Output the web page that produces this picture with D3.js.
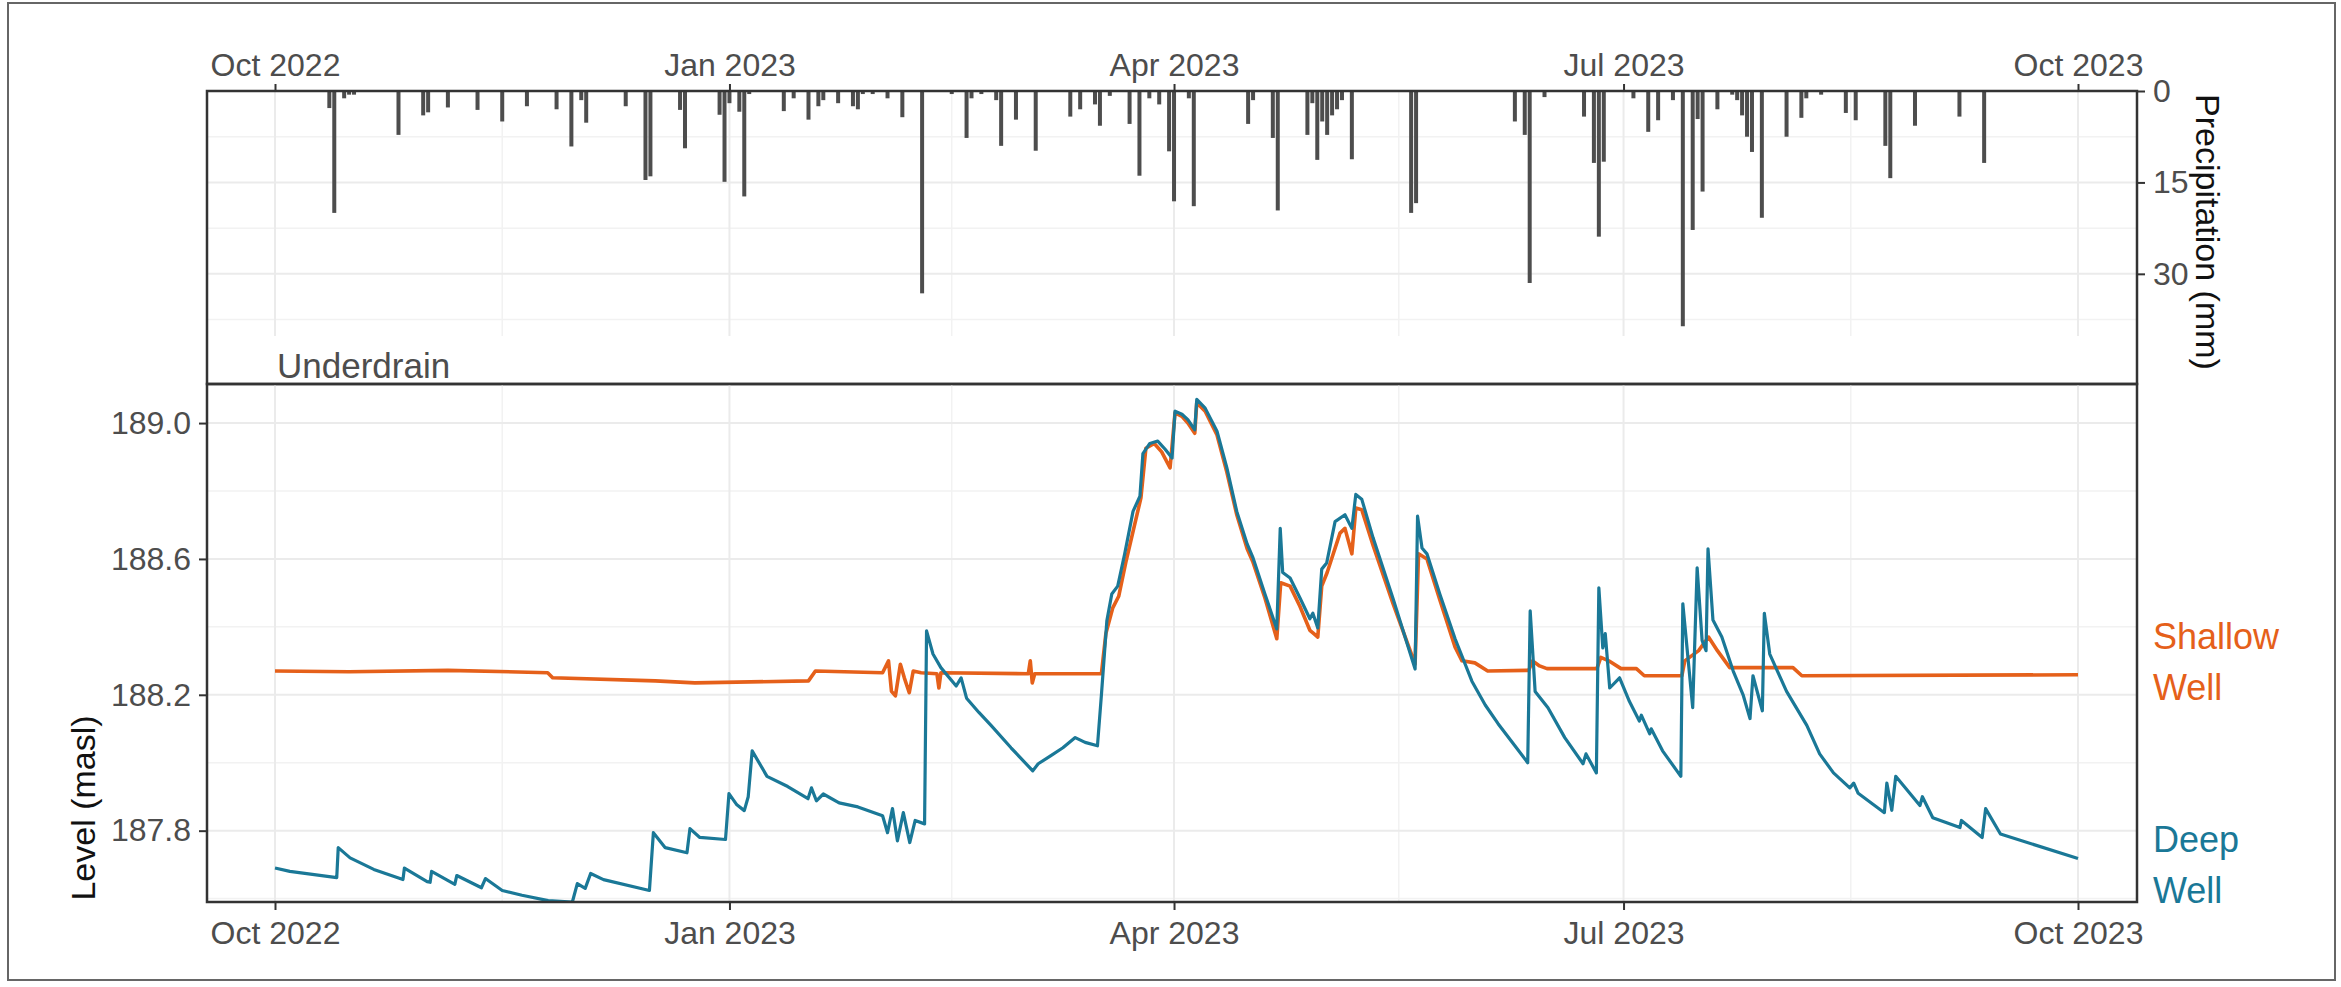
<!DOCTYPE html>
<html>
<head>
<meta charset="utf-8">
<script src="https://cdn.jsdelivr.net/npm/d3@7"></script>
<style>
    body { margin: 0; background: #fff; }
    #chart { width: 2341px; height: 987px; }
    text { font-family: "Liberation Sans", Arial, sans-serif; }
    .tick text { fill: #4d4d4d; font-size: 32px; }
    .tick line { stroke: #333; stroke-width: 2; }
    .domain { display: none; }
</style>
</head>
<body>
<div id="chart"></div>
<script>

// daily precipitation (mm)
const precipDates = [
    "2022-10-12", "2022-10-13", "2022-10-15", "2022-10-16", "2022-10-17", "2022-10-26", "2022-10-31",
    "2022-11-01", "2022-11-05", "2022-11-11", "2022-11-16", "2022-11-21", "2022-11-27", "2022-11-30",
    "2022-12-02", "2022-12-03", "2022-12-11", "2022-12-15", "2022-12-16", "2022-12-22", "2022-12-23",
    "2022-12-30", "2022-12-31", "2023-01-01", "2023-01-03", "2023-01-04", "2023-01-05", "2023-01-12",
    "2023-01-14", "2023-01-17", "2023-01-19", "2023-01-20", "2023-01-23", "2023-01-26", "2023-01-27",
    "2023-01-28", "2023-01-30", "2023-02-02", "2023-02-05", "2023-02-09", "2023-02-15", "2023-02-18",
    "2023-02-19", "2023-02-21", "2023-02-24", "2023-02-25", "2023-02-28", "2023-03-04", "2023-03-11",
    "2023-03-13", "2023-03-16", "2023-03-17", "2023-03-19", "2023-03-23", "2023-03-25", "2023-03-27",
    "2023-03-29", "2023-03-31", "2023-04-01", "2023-04-04", "2023-04-05", "2023-04-16", "2023-04-17",
    "2023-04-21", "2023-04-22", "2023-04-28", "2023-04-29", "2023-04-30", "2023-05-01", "2023-05-02",
    "2023-05-03", "2023-05-04", "2023-05-05", "2023-05-07", "2023-05-19", "2023-05-20", "2023-06-09",
    "2023-06-11", "2023-06-12", "2023-06-15", "2023-06-23", "2023-06-25", "2023-06-26", "2023-06-27",
    "2023-07-03", "2023-07-06", "2023-07-08", "2023-07-11", "2023-07-13", "2023-07-15", "2023-07-16",
    "2023-07-17", "2023-07-20", "2023-07-23", "2023-07-24", "2023-07-25", "2023-07-26", "2023-07-27",
    "2023-07-29", "2023-08-03", "2023-08-06", "2023-08-07", "2023-08-10", "2023-08-15", "2023-08-17",
    "2023-08-23", "2023-08-24", "2023-08-29", "2023-09-07", "2023-09-12"
];
const precipMm = [
    2.8, 20, 1.2, 0.6, 0.6, 7.2, 4,
    3.5, 2.7, 3.1, 5, 2.5, 3, 9.1,
    1.5, 5.2, 2.5, 14.6, 14, 3.1, 9.4,
    3.9, 14.9, 2, 3.4, 17.3, 0.5, 3.3,
    1.2, 4.7, 2.5, 1.5, 2, 2.5, 3,
    0.5, 0.5, 1.2, 4.3, 33.2, 0.5, 7.7,
    1.2, 0.5, 1.5, 9, 4.7, 9.8, 4.2,
    3, 2.2, 5.7, 0.8, 5.4, 13.9, 1.2,
    2.2, 9.9, 18.1, 1.2, 18.9, 5.4, 1.5,
    7.7, 19.6, 7.2, 2, 11.3, 5, 7.2,
    4, 3, 1.5, 11.2, 20, 18.4, 5,
    7.2, 31.5, 1, 4.2, 11.8, 23.9, 11.6,
    1.2, 6.7, 4.8, 1.5, 38.6, 22.8, 4.6,
    16.5, 3, 0.6, 1.5, 4, 7.5, 10,
    20.8, 7.5, 4.4, 1.2, 0.6, 3.6, 4.8,
    9, 14.3, 5.7, 4.2, 11.8
];

// water levels (masl), [day of water year (from 2022-10-01), level]
const deepWell = [
    [0, 187.69], [3, 187.68], [12.5, 187.662], [12.8, 187.75], [15.2, 187.72], [20, 187.686], [25.9, 187.656],
    [26.2, 187.69], [30.8, 187.65], [31.4, 187.648], [31.7, 187.68], [36.4, 187.642], [36.8, 187.668],
    [41.8, 187.632], [42.6, 187.659], [46, 187.624], [50, 187.61], [55.3, 187.594], [60.2, 187.59], [61.2, 187.644],
    [62.8, 187.63], [63.9, 187.674], [66.5, 187.656], [75.8, 187.624], [76.6, 187.794], [79, 187.75],
    [83.4, 187.735], [84, 187.806], [86, 187.78], [91.2, 187.774], [91.9, 187.909], [93.5, 187.876],
    [95, 187.859], [95.8, 187.9], [96.6, 188.035], [99.6, 187.96], [103.8, 187.93], [107.9, 187.894],
    [108.6, 187.926], [109.6, 187.888], [111, 187.908], [114.2, 187.882], [118, 187.87], [123, 187.844],
    [124, 187.794], [125, 187.865], [126, 187.77], [127.2, 187.853], [128.5, 187.765], [129.6, 187.83],
    [131.5, 187.82], [131.9, 188.388], [133.2, 188.32], [134.8, 188.28], [137.9, 188.226], [138.9, 188.25],
    [140, 188.19], [142.5, 188.148], [145, 188.109], [149, 188.044], [153.4, 187.976], [154.5, 187.997], [157, 188.02],
    [159.5, 188.044], [162, 188.074], [164, 188.06], [166.5, 188.05], [167.3, 188.2], [168.4, 188.418],
    [169.4, 188.497], [170.6, 188.52], [172, 188.614], [173.7, 188.74], [175.1, 188.785], [175.7, 188.91],
    [177.1, 188.94], [178.7, 188.947], [180.2, 188.923], [181.6, 188.897], [182.2, 189.035], [183.6, 189.026],
    [184.8, 189.01], [186.2, 188.98], [186.6, 189.07], [188.3, 189.044], [190.7, 188.976], [192.7, 188.868],
    [194.7, 188.74], [196.8, 188.644], [198, 188.603], [200.4, 188.497], [202.8, 188.394], [203.5, 188.69],
    [204, 188.56], [205.5, 188.544], [207.5, 188.485], [209.5, 188.424], [210.1, 188.44], [211.1, 188.397],
    [211.9, 188.57], [212.9, 188.588], [214.6, 188.71], [216.6, 188.73], [218, 188.69], [218.8, 188.79],
    [220, 188.776], [222.3, 188.662], [226.3, 188.485], [230.8, 188.276], [231.3, 188.726], [232.2, 188.632],
    [233.2, 188.615], [235.8, 188.497], [238.9, 188.365], [242.3, 188.24], [245, 188.17], [247.6, 188.115], [251, 188.05],
    [253.6, 188.0], [254.1, 188.447], [255.1, 188.21], [257.7, 188.162], [261.1, 188.074], [264.8, 187.997],
    [265.4, 188.026], [267.5, 187.97], [268, 188.515], [268.8, 188.338], [269.3, 188.38], [270.2, 188.22],
    [272.2, 188.25], [274.2, 188.18], [276.2, 188.123], [276.6, 188.14], [278.3, 188.085], [278.6, 188.1], [280.9, 188.035],
    [284.6, 187.96], [285, 188.468], [287, 188.162], [287.9, 188.574], [288.9, 188.36], [289.7, 188.33],
    [290.1, 188.63], [291.1, 188.42], [292.9, 188.37], [295.2, 188.27], [297.2, 188.2], [298.6, 188.13],
    [299.2, 188.256], [301.1, 188.153], [301.5, 188.44], [302.6, 188.32], [306, 188.21], [310.1, 188.11],
    [312.7, 188.026], [315.5, 187.97], [318.8, 187.926], [319.6, 187.94], [320.5, 187.91], [325.8, 187.853], [326.3, 187.94],
    [327.3, 187.86], [328.1, 187.96], [333, 187.874], [333.5, 187.9], [335.6, 187.838], [341.1, 187.809],
    [341.4, 187.83], [345.6, 187.78], [346.3, 187.865], [349.3, 187.79], [365, 187.718]
];
const shallowWell = [
    [0, 188.27], [15, 188.268], [35, 188.272], [55.2, 188.265], [56.2, 188.25], [77, 188.241],
    [85, 188.235], [108, 188.241], [109.4, 188.27], [123, 188.265], [124.2, 188.3], [124.8, 188.21],
    [125.6, 188.197], [126.6, 188.29], [127.4, 188.25], [128.4, 188.206], [129.2, 188.27], [130.8, 188.265],
    [134, 188.262], [134.4, 188.22], [134.8, 188.265], [152.5, 188.262], [152.9, 188.3], [153.3, 188.235],
    [153.8, 188.262], [167.3, 188.262], [168.2, 188.38], [169.6, 188.456], [170.8, 188.49], [172.3, 188.594],
    [175.3, 188.78], [176.3, 188.926], [178, 188.94], [179.5, 188.915], [181.2, 188.868], [182.2, 189.03],
    [183.6, 189.02], [184.8, 189.0], [186.2, 188.97], [186.6, 189.06], [188.3, 189.035], [190.7, 188.965],
    [192.7, 188.855], [194.7, 188.73], [196.8, 188.63], [198, 188.59], [200.4, 188.485], [202.8, 188.365],
    [203.6, 188.53], [205.5, 188.52], [207.5, 188.46], [209.5, 188.39], [210.3, 188.38], [211.1, 188.37],
    [211.9, 188.52], [213, 188.56], [215.6, 188.676], [216.6, 188.69], [218, 188.615], [218.8, 188.75],
    [220, 188.745], [222.3, 188.64], [226.3, 188.47], [230.8, 188.29], [231.5, 188.615], [233.2, 188.6],
    [235.8, 188.48], [238.9, 188.34], [240.3, 188.3], [242.9, 188.294], [245.5, 188.27], [253.8, 188.272],
    [254.6, 188.3], [256, 188.285], [257.5, 188.277], [267.6, 188.277], [268.4, 188.31], [270, 188.3],
    [272.5, 188.277], [275.6, 188.277], [277.2, 188.256], [284.8, 188.256], [285.4, 188.3], [288.2, 188.33],
    [290.2, 188.37], [292, 188.33], [294.5, 188.28], [307.3, 188.28], [309.1, 188.256], [365, 188.259]
];

const seriesNames = ["Shallow\nWell", "Deep\nWell"];
const seriesColors = ["#E5601A", "#1A7897"];
const labelLevels = [188.294, 187.697];   // where the end labels sit

const dateTicks = ["2022-10-01", "2023-01-01", "2023-04-01", "2023-07-01", "2023-10-01"];
const levelTicks = [187.8, 188.2, 188.6, 189.0];
const levelMinor = [187.6, 188.0, 188.4, 188.8];
const precipTicks = [0, 15, 30];
const precipMinor = [7.5, 22.5, 37.5];


class WellChart {
    constructor(parentElement) {
        this.parentElement = parentElement;
        this.initVis();
    }

    initVis() {
        let vis = this;

        vis.width = 2341;
        vis.height = 987;

        // panel edges (px)
        vis.left = 207;
        vis.right = 2137;
        vis.topPanel = { top: 91, gridBottom: 336, bottom: 384 };
        vis.botPanel = { top: 384, bottom: 902 };

        vis.svg = d3.select("#" + vis.parentElement)
            .append("svg")
            .attr("width", vis.width)
            .attr("height", vis.height);

        vis.svg.append("rect")
            .attr("width", vis.width)
            .attr("height", vis.height)
            .attr("fill", "#fff");

        // outer frame
        vis.svg.append("rect")
            .attr("x", 8).attr("y", 3)
            .attr("width", 2327).attr("height", 977)
            .attr("fill", "none")
            .attr("stroke", "#666")
            .attr("stroke-width", 2);

        vis.parseDay = d3.utcParse("%Y-%m-%d");
        vis.wyStart = vis.parseDay("2022-10-01");
        vis.dayToDate = d => new Date(+vis.wyStart + d * 864e5);

        vis.tickDates = dateTicks.map(vis.parseDay);
        vis.minorDates = d3.pairs(vis.tickDates).map(([a, b]) => new Date((+a + +b) / 2));

        // scales
        vis.x = d3.scaleUtc()
            .domain([vis.wyStart, vis.parseDay("2023-10-01")])
            .range([275, 2078]);

        vis.yP = d3.scaleLinear()
            .domain([0, 40.2])
            .range([vis.topPanel.top, vis.topPanel.gridBottom]);

        vis.yL = d3.scaleLinear()
            .domain([187.59, 189.115])
            .range([vis.botPanel.bottom, vis.botPanel.top]);

        vis.color = d3.scaleOrdinal().domain(seriesNames).range(seriesColors);

        vis.drawPrecip();
        vis.drawLevels();
    }

    drawGrid(g, xTop, xBottom, yVals, yScale, major) {
        let vis = this;
        let col = major ? "#EBEBEB" : "#F2F2F2";
        let sw = major ? 2 : 1.5;

        g.selectAll(null)
            .data(yVals)
            .enter()
            .append("line")
            .attr("x1", vis.left).attr("x2", vis.right)
            .attr("y1", d => yScale(d)).attr("y2", d => yScale(d))
            .attr("stroke", col).attr("stroke-width", sw);

        g.selectAll(null)
            .data(major ? vis.tickDates : vis.minorDates)
            .enter()
            .append("line")
            .attr("x1", d => vis.x(d)).attr("x2", d => vis.x(d))
            .attr("y1", xTop).attr("y2", xBottom)
            .attr("stroke", col).attr("stroke-width", sw);
    }

    drawPrecip() {
        let vis = this;
        let p = vis.topPanel;

        let grid = vis.svg.append("g").attr("class", "grid-top");
        vis.drawGrid(grid, p.top, p.gridBottom, precipMinor, vis.yP, false);
        vis.drawGrid(grid, p.top, p.gridBottom, precipTicks, vis.yP, true);

        let rain = precipDates.map((d, i) => ({ date: vis.parseDay(d), mm: precipMm[i] }));

        // bars hang down from the top
        vis.svg.append("g")
            .selectAll("rect")
            .data(rain)
            .enter()
            .append("rect")
            .attr("x", d => vis.x(d.date) - 2)
            .attr("y", vis.yP(0))
            .attr("width", 4)
            .attr("height", d => vis.yP(d.mm) - vis.yP(0))
            .attr("fill", "#4D4D4D");

        vis.svg.append("text")
            .attr("x", 277)
            .attr("y", 378)
            .attr("fill", "#4d4d4d")
            .style("font-size", "35px")
            .text("Underdrain");

        vis.svg.append("rect")
            .attr("x", vis.left).attr("y", p.top)
            .attr("width", vis.right - vis.left)
            .attr("height", p.bottom - p.top)
            .attr("fill", "none")
            .attr("stroke", "#333")
            .attr("stroke-width", 2.5);

        // axes
        vis.svg.append("g")
            .attr("transform", `translate(0, ${p.top})`)
            .call(d3.axisTop(vis.x)
                .tickValues(vis.tickDates)
                .tickFormat(d3.utcFormat("%b %Y"))
                .tickSize(7)
                .tickPadding(8));

        vis.svg.append("g")
            .attr("transform", `translate(${vis.right}, 0)`)
            .call(d3.axisRight(vis.yP)
                .tickValues(precipTicks)
                .tickSize(8)
                .tickPadding(8));

        vis.svg.append("text")
            .attr("transform", `translate(2196, 232) rotate(90)`)
            .attr("text-anchor", "middle")
            .attr("fill", "#111")
            .style("font-size", "34px")
            .text("Precipitation (mm)");
    }

    drawLevels() {
        let vis = this;
        let p = vis.botPanel;

        let grid = vis.svg.append("g").attr("class", "grid-bottom");
        vis.drawGrid(grid, p.top, p.bottom, levelMinor, vis.yL, false);
        vis.drawGrid(grid, p.top, p.bottom, levelTicks, vis.yL, true);

        vis.svg.append("clipPath")
            .attr("id", "clip-levels")
            .append("rect")
            .attr("x", vis.left).attr("y", p.top)
            .attr("width", vis.right - vis.left)
            .attr("height", p.bottom - p.top);

        let line = d3.line()
            .x(d => vis.x(vis.dayToDate(d[0])))
            .y(d => vis.yL(d[1]));

        let series = [
            { name: seriesNames[0], values: shallowWell, label: labelLevels[0] },
            { name: seriesNames[1], values: deepWell, label: labelLevels[1] }
        ];

        vis.svg.append("g")
            .attr("clip-path", "url(#clip-levels)")
            .selectAll("path")
            .data(series)
            .enter()
            .append("path")
            .attr("d", d => line(d.values))
            .attr("fill", "none")
            .attr("stroke", d => vis.color(d.name))
            .attr("stroke-width", (d, i) => i === 0 ? 3.6 : 3.2)
            .attr("stroke-linejoin", "round");

        vis.svg.append("rect")
            .attr("x", vis.left).attr("y", p.top)
            .attr("width", vis.right - vis.left)
            .attr("height", p.bottom - p.top)
            .attr("fill", "none")
            .attr("stroke", "#333")
            .attr("stroke-width", 2.5);

        vis.svg.append("g")
            .attr("transform", `translate(0, ${p.bottom})`)
            .call(d3.axisBottom(vis.x)
                .tickValues(vis.tickDates)
                .tickFormat(d3.utcFormat("%b %Y"))
                .tickSize(8)
                .tickPadding(11));

        vis.svg.append("g")
            .attr("transform", `translate(${vis.left}, 0)`)
            .call(d3.axisLeft(vis.yL)
                .tickValues(levelTicks)
                .tickFormat(d3.format(".1f"))
                .tickSize(8)
                .tickPadding(8));

        vis.svg.append("text")
            .attr("transform", `translate(95, 808) rotate(-90)`)
            .attr("text-anchor", "middle")
            .attr("fill", "#111")
            .style("font-size", "34px")
            .text("Level (masl)");

        // series labels at the right end
        series.forEach(s => {
            let lines = s.name.split("\n");
            let yc = vis.yL(s.label);
            let t = vis.svg.append("text")
                .attr("fill", vis.color(s.name))
                .style("font-size", "36px");
            lines.forEach((txt, i) => {
                t.append("tspan")
                    .attr("x", 2153)
                    .attr("y", yc + 12 + (i - (lines.length - 1) / 2) * 51)
                    .text(txt);
            });
        });
    }
}

new WellChart("chart");
</script>
</body>
</html>
